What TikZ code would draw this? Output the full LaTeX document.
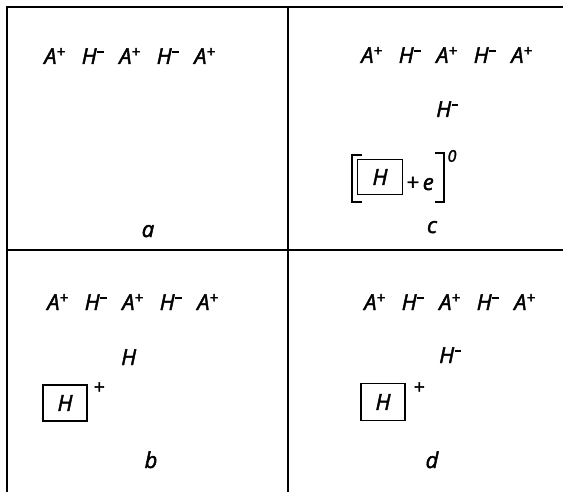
\documentclass[tikz,border=0pt]{standalone}
\usepackage{fontspec}
\setmainfont{Open Sans}[ItalicFeatures={FakeBold=2}]
\newcommand\pl{\raisebox{7pt}{\fontsize{15}{15}\selectfont\itshape +}}
\newcommand\mi{\kern0.5pt\raisebox{11pt}{\rule{6.5pt}{1.8pt}}}
\newcommand\itm[1]{\makebox[37.5pt][l]{#1}}
\newcommand\chain{\itm{A\pl}\itm{H\mi}\itm{A\pl}\itm{H\mi}A\pl}
\begin{document}
\begin{tikzpicture}[x=1pt,y=-1pt,
  frame/.style={line width=1.6pt},
  txt/.style={inner sep=0pt,anchor=base,font=\fontsize{22}{22}\selectfont\itshape},
  lft/.style={txt,anchor=base west},
  hbox/.style={draw,line width=1.4pt,minimum width=44pt,minimum height=36pt,inner sep=0pt,font=\fontsize{22}{22}\selectfont\itshape},
  small/.style={inner sep=0pt,font=\fontsize{16}{16}\selectfont\itshape},
  brk/.style={line width=1.6pt}]
\useasboundingbox (0,0) rectangle (563,492);
% frame
\draw[frame] (7,492) -- (7,7) -- (563,7);
\draw[frame] (288,7) -- (288,492);
\draw[frame] (7,250) -- (563,250);
% panel a
\node[lft] (rowA) at (44,64) {\chain};
\node[txt] (la) at (148,237) {a};
% panel c
\node[lft] (rowC) at (361,63) {\chain};
\node[lft] (hc) at (436,117) {H\mi};
\node[hbox,minimum width=45pt,minimum height=35pt] (boxc) at (380,177) {H};
\node[lft] (pe) at (406,190) {+\kern4pt e};
\node[small] (zc) at (452,156) {0};
\draw[brk] (362,155) -- (352,155) -- (352,202) -- (362,202);
\draw[brk] (435,153) -- (444,153) -- (444,202) -- (435,202);
\node[txt] (lc) at (432,233) {c};
% panel b
\node[lft] (rowB) at (47,310) {\chain};
\node[lft] (hb) at (121,365) {H};
\node[hbox] (boxb) at (65,403) {H};
\node[small,font=\fontsize{19}{19}\selectfont\itshape] (pb) at (99,388) {+};
\node[txt] (lb) at (151,468) {b};
% panel d
\node[lft] (rowD) at (364,310) {\chain};
\node[lft] (hd) at (439,363) {H\mi};
\node[hbox,minimum height=37pt] (boxd) at (383,402) {H};
\node[small,font=\fontsize{19}{19}\selectfont\itshape] (pd) at (419,388) {+};
\node[txt] (ld) at (432,468) {d};
\end{tikzpicture}
\end{document}
